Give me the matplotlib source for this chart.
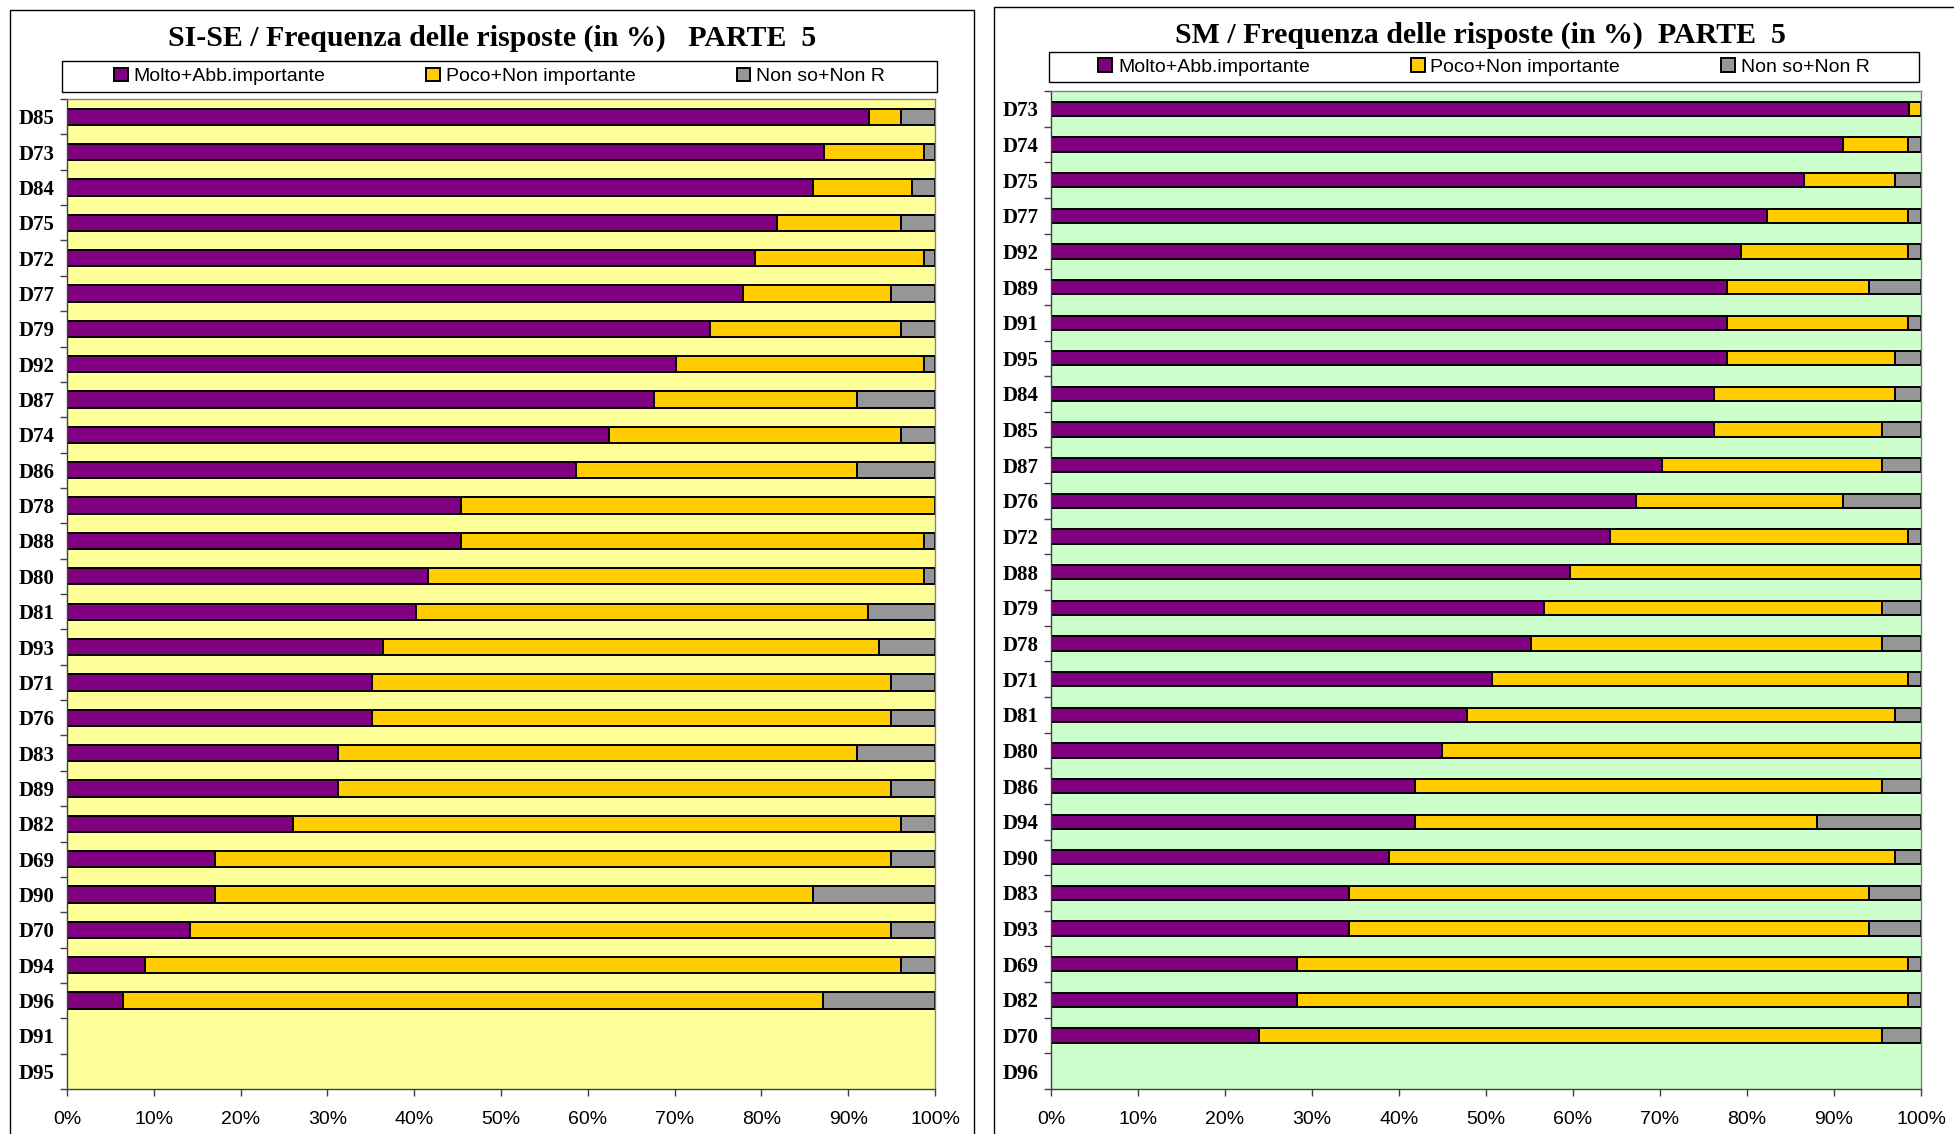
import numpy as np
import matplotlib
matplotlib.use("Agg")
import matplotlib.pyplot as plt
from matplotlib.patches import Rectangle

# ---------------- data ----------------
series_names = ["Molto+Abb.importante", "Poco+Non importante", "Non so+Non R"]

cats_left = ["D85", "D73", "D84", "D75", "D72", "D77", "D79", "D92", "D87", "D74",
             "D86", "D78", "D88", "D80", "D81", "D93", "D71", "D76", "D83", "D89",
             "D82", "D69", "D90", "D70", "D94", "D96", "D91", "D95"]
molto_left = [92.4, 87.2, 85.9, 81.8, 79.3, 77.9, 74.1, 70.2, 67.6, 62.4,
              58.6, 45.4, 45.4, 41.6, 40.2, 36.4, 35.1, 35.1, 31.2, 31.2,
              26.0, 17.0, 17.0, 14.2, 9.0, 6.4, np.nan, np.nan]
poco_left = [3.7, 11.5, 11.5, 14.3, 19.4, 17.0, 22.0, 28.5, 23.4, 33.7,
             32.4, 54.6, 53.3, 57.1, 52.1, 57.2, 59.8, 59.8, 59.8, 63.7,
             70.1, 77.9, 68.9, 80.7, 87.1, 80.7, np.nan, np.nan]
nonso_left = [3.9, 1.3, 2.6, 3.9, 1.3, 5.1, 3.9, 1.3, 9.0, 3.9,
              9.0, 0.0, 1.3, 1.3, 7.7, 6.4, 5.1, 5.1, 9.0, 5.1,
              3.9, 5.1, 14.1, 5.1, 3.9, 12.9, np.nan, np.nan]

cats_right = ["D73", "D74", "D75", "D77", "D92", "D89", "D91", "D95", "D84", "D85",
              "D87", "D76", "D72", "D88", "D79", "D78", "D71", "D81", "D80", "D86",
              "D94", "D90", "D83", "D93", "D69", "D82", "D70", "D96"]
molto_right = [98.6, 91.0, 86.6, 82.3, 79.3, 77.7, 77.7, 77.7, 76.2, 76.2,
               70.2, 67.2, 64.2, 59.7, 56.7, 55.2, 50.7, 47.8, 44.9, 41.8,
               41.8, 38.9, 34.3, 34.3, 28.3, 28.3, 23.9, np.nan]
poco_right = [1.4, 7.5, 10.4, 16.2, 19.2, 16.3, 20.8, 19.3, 20.8, 19.3,
              25.3, 23.8, 34.3, 40.3, 38.8, 40.3, 47.8, 49.2, 55.1, 53.7,
              46.2, 58.1, 59.7, 59.7, 70.2, 70.2, 71.6, np.nan]
nonso_right = [0.0, 1.5, 3.0, 1.5, 1.5, 6.0, 1.5, 3.0, 3.0, 4.5,
               4.5, 9.0, 1.5, 0.0, 4.5, 4.5, 1.5, 3.0, 0.0, 4.5,
               12.0, 3.0, 6.0, 6.0, 1.5, 1.5, 4.5, np.nan]

x_ticks = [0, 10, 20, 30, 40, 50, 60, 70, 80, 90, 100]

title_left = "SI-SE / Frequenza delle risposte (in %)   PARTE  5"
title_right = "SM / Frequenza delle risposte (in %)  PARTE  5"

# ---------------- style ----------------
W, H = 1954, 1134
DPI = 100
COLORS = ["#800080", "#FFCC00", "#969696"]
SERIF = "Liberation Serif"
SANS = "Liberation Sans"


def fx(px):
    return px / W


def fy(py):
    return 1 - py / H


fig = plt.figure(figsize=(W / DPI, H / DPI), dpi=DPI, facecolor="white")


def panel(box, cats, series, bg, bar_h, title, title_xy, leg_box):
    x0, y0, x1, y1 = box
    ax = fig.add_axes([fx(x0), fy(y1), fx(x1 - x0), (y1 - y0) / H])
    ax.set_facecolor(bg)
    n = len(cats)
    ypos = np.arange(n)
    left = np.zeros(n)
    handles = []
    for vals, col, name in zip(series, COLORS, series_names):
        v = np.array(vals, dtype=float)
        b = ax.barh(ypos, v, left=left, height=bar_h, color=col,
                    edgecolor="black", linewidth=1.4, label=name)
        handles.append(b)
        left = left + np.nan_to_num(v)
    ax.set_xlim(0, 100)
    ax.set_ylim(n - 0.5, -0.5)
    ax.set_xticks(x_ticks)
    ax.set_xticklabels([f"{t}%" for t in x_ticks], family=SANS, fontsize=14)
    ax.set_yticks(ypos)
    ax.set_yticklabels(cats, family=SERIF, fontweight="bold", fontsize=15)
    ax.set_yticks(np.arange(n + 1) - 0.5, minor=True)
    ax.tick_params(axis="y", which="major", length=0, pad=9)
    ax.tick_params(axis="y", which="minor", length=5, width=1.0,
                   color="#404040", direction="out")
    ax.tick_params(axis="x", which="major", length=5, width=1.0,
                   color="#404040", direction="out", pad=11)
    for s in ("left", "bottom"):
        ax.spines[s].set_color("#404040")
        ax.spines[s].set_linewidth(1.0)
    for s in ("top", "right"):
        ax.spines[s].set_color("#808080")
        ax.spines[s].set_linewidth(1.0)
    # title
    fig.text(fx(title_xy[0]), fy(title_xy[1]), title, ha="center", va="center",
             family=SERIF, fontweight="bold", fontsize=21.5)
    # legend frame + legend
    lx0, ly0, lx1, ly1 = leg_box
    fig.add_artist(Rectangle((fx(lx0), fy(ly1)), fx(lx1 - lx0), (ly1 - ly0) / H,
                             transform=fig.transFigure, fill=False,
                             edgecolor="black", linewidth=1.0))
    fig.legend(handles, series_names, loc="center",
               bbox_to_anchor=(fx((lx0 + lx1) / 2), fy((ly0 + ly1) / 2)),
               ncol=3, frameon=False, handlelength=0.7, handleheight=0.7,
               handletextpad=0.3, columnspacing=5.2, borderpad=0, borderaxespad=0,
               prop={"family": SANS, "size": 14})
    return ax


panel((67, 99, 935, 1089), cats_left, [molto_left, poco_left, nonso_left],
      "#FFFF99", 0.46, title_left, (492, 38), (62, 61, 937, 92))
panel((1051, 91, 1921, 1089), cats_right, [molto_right, poco_right, nonso_right],
      "#CCFFCC", 0.40, title_right, (1480, 35), (1049, 52, 1919, 82))

# chart-area frames
fig.add_artist(Rectangle((fx(10), -0.2), fx(974 - 10), fy(10) + 0.2,
                         transform=fig.transFigure, fill=False,
                         edgecolor="black", linewidth=1.0))
fig.add_artist(Rectangle((fx(994), -0.2), 0.5, fy(7) + 0.2,
                         transform=fig.transFigure, fill=False,
                         edgecolor="black", linewidth=1.0))

fig.savefig("out.png", dpi=DPI, facecolor="white")
